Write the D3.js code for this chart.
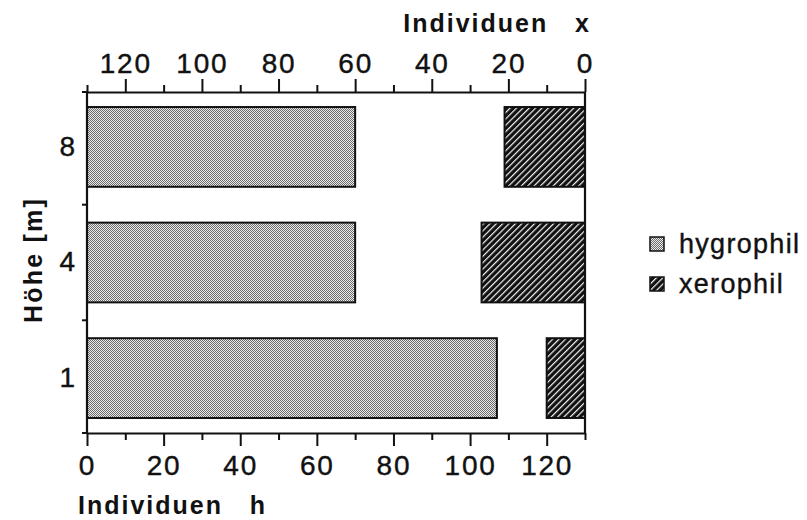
<!DOCTYPE html>
<html><head><meta charset="utf-8">
<script src="https://cdn.jsdelivr.net/npm/d3@7"></script>
<style>body{margin:0;background:#fff}svg{display:block}text{font-family:"Liberation Sans",Arial,Helvetica,sans-serif;fill:#111}</style>
</head><body>
<script>
const heights = ["8","4","1"];
const hygrophil = [70, 70, 107];
const xerophil = [21, 27, 10];
const majorTicks = [0,20,40,60,80,100,120];
const minorTicks = [10,30,50,70,90,110,130];
const legendLabels = ["hygrophil","xerophil"];

const W=807,H=520;
const svg=d3.select("body").append("svg").attr("width",W).attr("height",H);
const defs=svg.append("defs");
const ph=defs.append("pattern").attr("id","pH").attr("patternUnits","userSpaceOnUse").attr("width",2).attr("height",2);
ph.append("rect").attr("width",2).attr("height",2).attr("fill","#ebebeb");
ph.append("rect").attr("width",1).attr("height",1).attr("fill","#6a6a6a");
ph.append("rect").attr("x",1).attr("y",1).attr("width",1).attr("height",1).attr("fill","#6a6a6a");
const px=defs.append("pattern").attr("id","pX").attr("patternUnits","userSpaceOnUse").attr("width",4.5).attr("height",4.5).attr("patternTransform","rotate(45)");
px.append("rect").attr("width",4.5).attr("height",4.5).attr("fill","#111");
px.append("rect").attr("x",0).attr("width",1.2).attr("height",4.5).attr("fill","#f4f4f4");

const L=87,R=585,T=92,B=433;
const x=d3.scaleLinear().domain([0,130]).range([L,R]);
const xt=d3.scaleLinear().domain([0,130]).range([R,L]);
const y=d3.scaleBand().domain(heights).range([T,B]).paddingInner(0.31).paddingOuter(0.13);

// bars
svg.append("g").selectAll("rect").data(heights).join("rect")
  .attr("x",x(0)).attr("y",d=>y(d)).attr("width",(d,i)=>x(hygrophil[i])-x(0)).attr("height",y.bandwidth())
  .attr("fill","url(#pH)").attr("stroke","#111").attr("stroke-width",2);
svg.append("g").selectAll("rect").data(heights).join("rect")
  .attr("x",(d,i)=>xt(xerophil[i])).attr("y",d=>y(d)).attr("width",(d,i)=>xt(0)-xt(xerophil[i])).attr("height",y.bandwidth())
  .attr("fill","url(#pX)").attr("stroke","#111").attr("stroke-width",2);

// frame
const lw=2.2;
svg.append("line").attr("x1",L).attr("x2",L).attr("y1",T).attr("y2",B).attr("stroke","#111").attr("stroke-width",lw);
svg.append("line").attr("x1",R).attr("x2",R).attr("y1",T).attr("y2",B).attr("stroke","#111").attr("stroke-width",lw);

function styleAxis(g){g.select(".domain").attr("stroke","#111").attr("stroke-width",lw);g.selectAll(".tick line").attr("stroke","#111").attr("stroke-width",2);g.selectAll("text").attr("font-size",28).attr("letter-spacing",1.8).attr("fill","#111").attr("stroke","#111").attr("stroke-width",0.4);}
// top axis
const gT=svg.append("g").attr("transform",`translate(0,${T})`);
gT.call(d3.axisTop(xt).tickValues(majorTicks).tickSize(13).tickSizeOuter(0).tickPadding(6).tickFormat(d3.format("d"))).call(styleAxis);
gT.append("g").call(d3.axisTop(xt).tickValues(minorTicks).tickSize(7).tickFormat("")).call(g=>{g.select(".domain").remove();g.selectAll(".tick line").attr("stroke","#111").attr("stroke-width",2);});
// bottom axis
const gB=svg.append("g").attr("transform",`translate(0,${B})`);
gB.call(d3.axisBottom(x).tickValues(majorTicks).tickSize(13).tickSizeOuter(0).tickPadding(9).tickFormat(d3.format("d"))).call(styleAxis);
gB.append("g").call(d3.axisBottom(x).tickValues(minorTicks).tickSize(7).tickFormat("")).call(g=>{g.select(".domain").remove();g.selectAll(".tick line").attr("stroke","#111").attr("stroke-width",2);});
// left axis: labels and boundary ticks
const gL=svg.append("g").attr("transform",`translate(${L},0)`);
gL.call(d3.axisLeft(y).tickSize(0).tickPadding(12)).call(g=>{g.select(".domain").remove();g.selectAll("text").attr("font-size",28).attr("fill","#111").attr("stroke","#111").attr("stroke-width",0.4);});
const step=y.step(), bounds=[T,B].concat(heights.slice(0,-1).map(d=>y(d)+y.bandwidth()+step*y.paddingInner()/2));
gL.selectAll("line.b").data(bounds).join("line").attr("class","b").attr("x1",-5).attr("x2",0).attr("y1",d=>d).attr("y2",d=>d).attr("stroke","#111").attr("stroke-width",2);

// titles
svg.append("text").attr("x",591).attr("y",32).attr("text-anchor","end").attr("font-size",25).attr("font-weight","bold").attr("letter-spacing",2).style("white-space","pre").text("Individuen   x");
svg.append("text").attr("x",78).attr("y",514).attr("text-anchor","start").attr("font-size",25).attr("font-weight","bold").attr("letter-spacing",2).style("white-space","pre").text("Individuen   h");
svg.append("text").attr("transform","translate(42,260) rotate(-90)").attr("text-anchor","middle").attr("font-size",25).attr("font-weight","bold").attr("letter-spacing",2.2).text("Höhe [m]");

// legend
const fills=["url(#pH)","url(#pX)"];
const lg=svg.append("g").selectAll("g").data(legendLabels).join("g").attr("transform",(d,i)=>`translate(650,${237+i*40})`);
lg.append("rect").attr("width",14).attr("height",14).attr("fill",(d,i)=>fills[i]).attr("stroke","#111").attr("stroke-width",1.5);
lg.append("text").attr("x",29).attr("y",7).attr("dy","0.35em").attr("font-size",27).attr("letter-spacing",1.3).attr("stroke","#111").attr("stroke-width",0.4).text(d=>d);
</script>
</body></html>
